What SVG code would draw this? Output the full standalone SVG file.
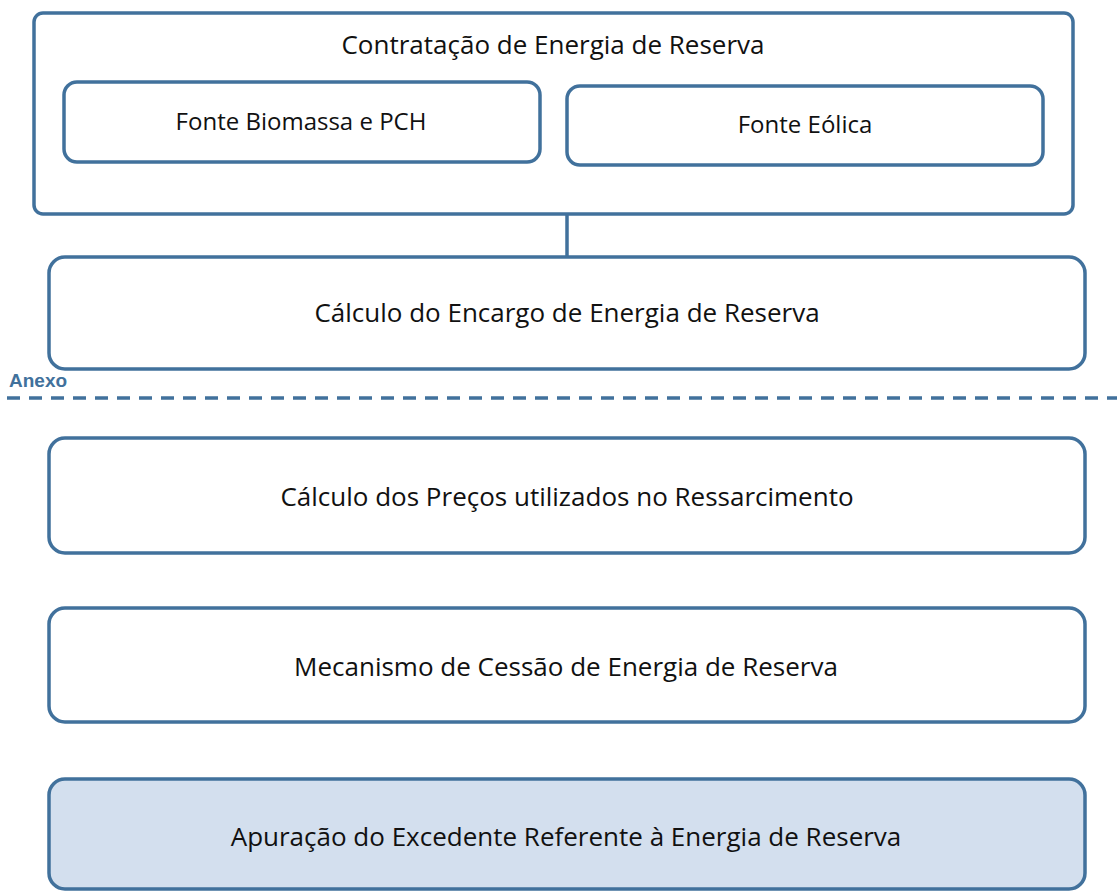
<svg xmlns="http://www.w3.org/2000/svg" width="1117" height="891" viewBox="0 0 1117 891">
<style>
.box{fill:#ffffff;stroke:#41719C;stroke-width:3.5}
.hl{fill:#D3DFEE}
.t{font-family:"Open Sans","Noto Sans",sans-serif;font-size:26px;fill:#111111;text-anchor:middle}
.s{font-size:24px}
.conn{stroke:#41719C;stroke-width:3.5;fill:none}
</style>
<rect width="1117" height="891" fill="#ffffff"/>
<g id="connectors">
<line class="conn" x1="567" y1="214" x2="567" y2="257"/>
<line class="conn" x1="7" y1="398" x2="1117" y2="398" stroke-dasharray="13,9"/>
</g>
<g id="contratacao">
<rect class="box" x="34" y="13" width="1039" height="201" rx="9"/>
<text class="t" x="553" y="54">Contratação de Energia de Reserva</text>
</g>
<g id="biomassa">
<rect class="box" x="64" y="82" width="476" height="80" rx="13"/>
<text class="t s" x="301" y="130">Fonte Biomassa e PCH</text>
</g>
<g id="eolica">
<rect class="box" x="567" y="86" width="476" height="79" rx="13"/>
<text class="t s" x="805" y="133">Fonte Eólica</text>
</g>
<g id="encargo">
<rect class="box" x="49" y="257" width="1036" height="112" rx="16"/>
<text class="t" x="567" y="322">Cálculo do Encargo de Energia de Reserva</text>
</g>
<g id="anexo">
<text x="9" y="387" font-family="Liberation Sans,Arial,sans-serif" font-weight="bold" font-size="19" fill="#41719C">Anexo</text>
</g>
<g id="precos">
<rect class="box" x="49" y="438" width="1036" height="115" rx="16"/>
<text class="t" x="567" y="506">Cálculo dos Preços utilizados no Ressarcimento</text>
</g>
<g id="cessao">
<rect class="box" x="49" y="608" width="1036" height="114" rx="16"/>
<text class="t" x="566" y="676">Mecanismo de Cessão de Energia de Reserva</text>
</g>
<g id="apuracao">
<rect class="box hl" x="49" y="779" width="1036" height="110" rx="16"/>
<text class="t" x="566" y="846">Apuração do Excedente Referente à Energia de Reserva</text>
</g>
</svg>
